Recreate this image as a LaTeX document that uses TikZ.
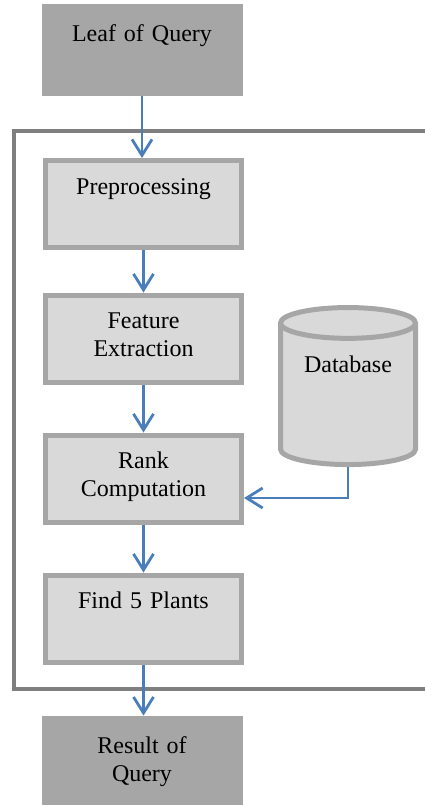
\documentclass[tikz,border=0pt]{standalone}
\usepackage{fontspec}
\setmainfont{Liberation Serif}
\usepackage{tikz}
\usetikzlibrary{shapes.geometric, arrows.meta}
\definecolor{outline}{RGB}{127, 127, 127}
\definecolor{dark}{RGB}{166, 166, 166}
\definecolor{light}{RGB}{217, 217, 217}
\definecolor{flow}{RGB}{74, 126, 187}

\begin{document}
\begin{tikzpicture}[x=0.5pt, y=-0.5pt,
  every node/.style={font=\fontsize{12}{14}\selectfont, inner sep=0pt, align=center},
  io/.style={fill=dark, text width=100.5pt, text height=18.5pt, text depth=27.5pt},
  stage/.style={draw=dark, fill=light, line width=2.5pt, text width=98pt, text height=16.75pt, text depth=26.75pt},
  store/.style={cylinder, shape border rotate=90, aspect=0.35, draw=dark, fill=light, line width=2.5pt, minimum width=67.5pt, minimum height=78.5pt, text height=8pt, text depth=31pt},
  link/.style={draw=flow, line width=1.4pt, -{Straight Barb[length=8pt, width=10pt]}}]
  \useasboundingbox (0, 0) rectangle (424, 805);

  % Frame round the system
  \draw [color=outline, line width=2pt] (14, 131) rectangle (440, 689);

  % Input and output
  \node [io] (leaf) at (142, 50) {Leaf of Query};
  \node [io] (result) at (142, 762) {Result of\\Query};

  % Stages
  \node [stage] (prep) at (143.5, 204) {Preprocessing};
  \node [stage] (feat) at (143.5, 338.5) {Feature\\Extraction};
  \node [stage] (rank) at (143.5, 478.5) {Rank\\Computation};
  \node [stage] (find) at (143.5, 618.5) {Find 5 Plants};

  % Database
  \node [store] (db) at (348, 395) {Database};

  % Flow
  \draw [link] (leaf) -- (leaf |- prep.north);
  \draw [link] (prep) -- (feat);
  \draw [link] (feat) -- (rank);
  \draw [link] (rank) -- (find);
  \draw [link] (find) -- (find |- result.north);
  \draw [link] (db.south) |- ([yshift=-9.75pt]rank.east);
\end{tikzpicture}
\end{document}
